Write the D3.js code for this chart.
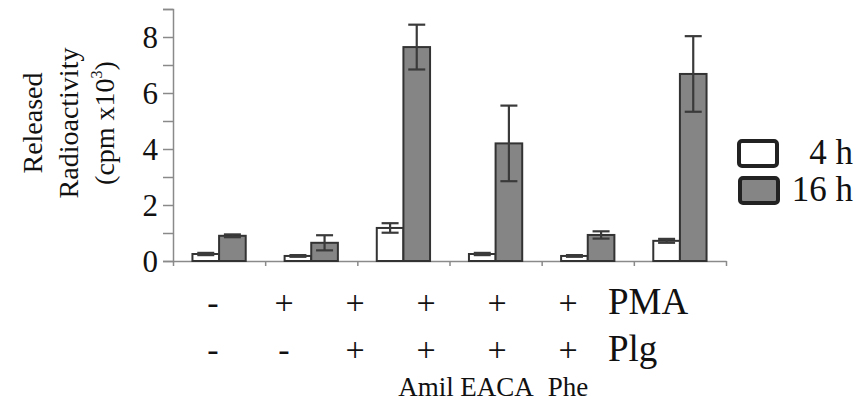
<!DOCTYPE html>
<html>
<head>
<meta charset="utf-8">
<script src="https://cdn.jsdelivr.net/npm/d3@7"></script>
</head>
<body style="margin:0">
<svg id="fig" width="856" height="403" font-family="Liberation Serif">
  <g transform="translate(0,123) rotate(-90)" text-anchor="middle">
    <text x="0" y="42" font-family="Liberation Serif" font-size="28" fill="#111">Released</text>
    <text x="0" y="78" font-family="Liberation Serif" font-size="28" fill="#111">Radioactivity</text>
    <text x="0" y="114" font-family="Liberation Serif" font-size="28" fill="#111">(cpm x10<tspan font-size="16" dy="-12">3</tspan><tspan dy="12">)</tspan></text>
  </g>
</svg>
<script>
const categories = ["ctrl", "pma", "pma_plg", "amil", "eaca", "phe"];
const seriesNames = ["4 h", "16 h"];
const values4h = [0.25, 0.18, 1.18, 0.25, 0.18, 0.72];
const err4h = [0.04, 0.03, 0.17, 0.04, 0.03, 0.07];
const values16h = [0.9, 0.65, 7.64, 4.2, 0.93, 6.68];
const err16h = [0.05, 0.27, 0.8, 1.35, 0.13, 1.35];
const yTicks = [0, 1, 2, 3, 4, 5, 6, 7, 8, 9];
const pmaRow = ["-", "+", "+", "+", "+", "+"];
const plgRow = ["-", "-", "+", "+", "+", "+"];
const inhibitorRow = ["", "", "", "Amil", "EACA", "Phe"];

const font = "Liberation Serif";
const svg = d3.select("#fig");

const plotLeft = 173, plotRight = 726, plotBottom = 261, plotTop = 9;

const x = d3.scaleBand().domain(categories).range([plotLeft, plotRight]).padding(0);
const x1 = d3.scaleBand().domain(seriesNames).range([0, x.bandwidth()])
    .paddingInner(0).paddingOuter(0.73);
const y = d3.scaleLinear().domain([0, 9]).range([plotBottom, plotTop]);
const fill = d3.scaleOrdinal().domain(seriesNames).range(["#ffffff", "#858585"]);

// y axis
const yAxis = svg.append("g")
    .attr("transform", `translate(${plotLeft},0)`)
    .call(d3.axisLeft(y).tickValues(yTicks).tickSize(10)
        .tickFormat(d => d % 2 === 0 ? d : ""));
yAxis.attr("font-family", font);
yAxis.select(".domain").attr("stroke", "#8a8a8a").attr("stroke-width", 1.5);
yAxis.selectAll(".tick line").attr("stroke", "#8a8a8a").attr("stroke-width", 1.5);
yAxis.selectAll(".tick text")
    .attr("font-family", font)
    .attr("font-size", 31)
    .attr("fill", "#111")
    .attr("x", -15)
    .attr("dy", "0.34em");

// x axis (boundary ticks)
const xb = d3.scaleLinear().domain([0, categories.length]).range([plotLeft, plotRight]);
const xAxis = svg.append("g")
    .attr("transform", `translate(0,${plotBottom})`)
    .call(d3.axisBottom(xb).ticks(categories.length).tickSize(5).tickSizeOuter(0).tickFormat(""));
xAxis.select(".domain").attr("stroke", "#8a8a8a").attr("stroke-width", 1.5);
xAxis.selectAll(".tick line").attr("stroke", "#8a8a8a").attr("stroke-width", 1.5);

// bars
const rows = categories.map((c, i) => ({
    cat: c,
    bars: [
        { s: "4 h", v: values4h[i], e: err4h[i] },
        { s: "16 h", v: values16h[i], e: err16h[i] }
    ]
}));

const groups = svg.append("g").selectAll("g")
    .data(rows)
    .join("g")
    .attr("transform", d => `translate(${x(d.cat)},0)`);

groups.selectAll("rect")
    .data(d => d.bars)
    .join("rect")
    .attr("x", d => x1(d.s))
    .attr("y", d => y(d.v))
    .attr("width", x1.bandwidth())
    .attr("height", d => y(0) - y(d.v))
    .attr("fill", d => fill(d.s))
    .attr("stroke", "#333")
    .attr("stroke-width", 2);

// error bars
const capW = 17;
const eb = groups.selectAll("g.err")
    .data(d => d.bars)
    .join("g")
    .attr("class", "err")
    .attr("stroke", "#3a3a3a")
    .attr("stroke-width", 2.2);
eb.append("line")
    .attr("x1", d => x1(d.s) + x1.bandwidth() / 2)
    .attr("x2", d => x1(d.s) + x1.bandwidth() / 2)
    .attr("y1", d => y(d.v + d.e))
    .attr("y2", d => y(d.v - d.e));
eb.append("line")
    .attr("x1", d => x1(d.s) + x1.bandwidth() / 2 - capW / 2)
    .attr("x2", d => x1(d.s) + x1.bandwidth() / 2 + capW / 2)
    .attr("y1", d => y(d.v + d.e))
    .attr("y2", d => y(d.v + d.e));
eb.append("line")
    .attr("x1", d => x1(d.s) + x1.bandwidth() / 2 - capW / 2)
    .attr("x2", d => x1(d.s) + x1.bandwidth() / 2 + capW / 2)
    .attr("y1", d => y(d.v - d.e))
    .attr("y2", d => y(d.v - d.e));

// legend
const legend = svg.append("g").attr("transform", "translate(739,141)");
seriesNames.forEach((s, i) => {
    const g = legend.append("g").attr("transform", `translate(${i},${i * 37})`);
    g.append("rect")
        .attr("width", 38).attr("height", 25)
        .attr("rx", 3)
        .attr("fill", fill(s))
        .attr("stroke", "#222")
        .attr("stroke-width", 4);
    g.append("text")
        .attr("x", 114 - i).attr("y", 23)
        .attr("text-anchor", "end")
        .attr("font-family", font)
        .attr("font-size", 35)
        .attr("fill", "#111")
        .text(s);
});

// condition rows
const xl = d3.scalePoint().domain(categories).range([213, 568]);
const rowDefs = [
    { labels: pmaRow, name: "PMA", yb: 314, size: 34 },
    { labels: plgRow, name: "Plg", yb: 361, size: 34 },
    { labels: inhibitorRow, name: "", yb: 396, size: 27 }
];
rowDefs.forEach(r => {
    svg.append("g").selectAll("text")
        .data(categories)
        .join("text")
        .attr("x", d => xl(d))
        .attr("y", r.yb)
        .attr("text-anchor", "middle")
        .attr("font-family", font)
        .attr("font-size", r.size)
        .attr("fill", "#111")
        .text((d, i) => r.labels[i]);
    if (r.name) {
        svg.append("text")
            .attr("x", 608).attr("y", r.yb)
            .attr("font-family", font)
            .attr("font-size", 37)
            .attr("fill", "#111")
            .text(r.name);
    }
});
</script>
</body>
</html>
